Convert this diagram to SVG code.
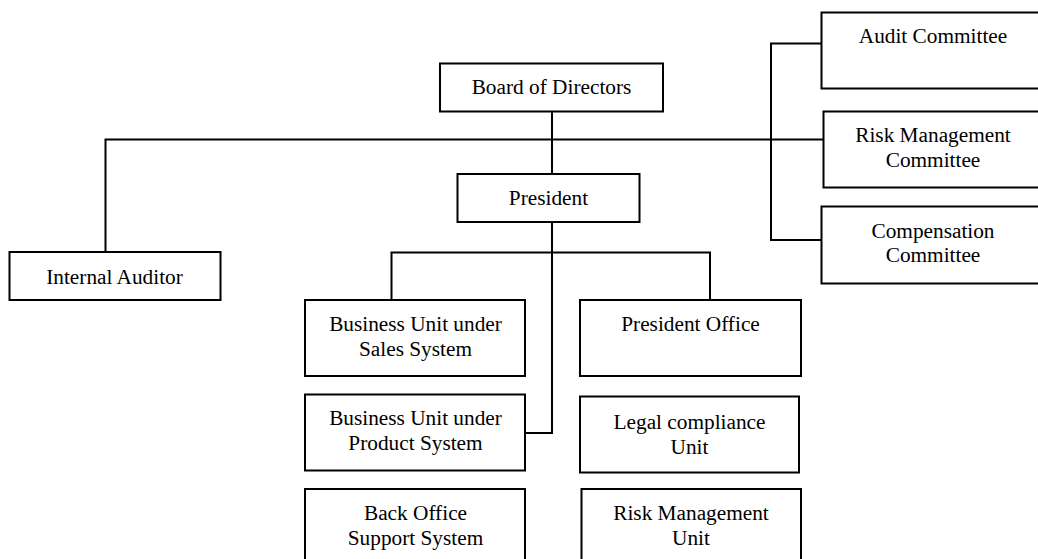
<svg xmlns="http://www.w3.org/2000/svg" width="1038" height="559" viewBox="0 0 1038 559">
<style>
.box{fill:#fff;stroke:#000;stroke-width:2}
.ln{fill:none;stroke:#000;stroke-width:2}
text{font-family:"Liberation Serif","Times New Roman",serif;font-size:21.3px;fill:#000;text-anchor:middle}
</style>
<rect width="1038" height="559" fill="#fff"/>
<g id="connectors">
<path class="ln" d="M552 112 V174"/>
<path class="ln" d="M105.5 252 V139.5 H823"/>
<path class="ln" d="M821 43.5 H771 V240 H821"/>
<path class="ln" d="M552 222 V433 H525"/>
<path class="ln" d="M391.5 300 V252.5 H710 V300"/>
</g>
<g id="board"><rect class="box" x="440" y="63.5" width="223" height="48"/><text x="551.5" y="94">Board of Directors</text></g>
<g id="president"><rect class="box" x="457.5" y="174" width="182" height="48"/><text x="548.5" y="205">President</text></g>
<g id="audit"><rect class="box" x="821.5" y="12.5" width="230" height="76"/><text x="933" y="42.5">Audit Committee</text></g>
<g id="riskcommittee"><rect class="box" x="823.5" y="111.5" width="230" height="76"/><text x="933" y="141.5">Risk Management</text><text x="933" y="166.5">Committee</text></g>
<g id="compensation"><rect class="box" x="821.5" y="206.5" width="230" height="77"/><text x="933" y="237.5">Compensation</text><text x="933" y="262">Committee</text></g>
<g id="internalauditor"><rect class="box" x="9.5" y="252" width="211" height="48"/><text x="114.5" y="283.5">Internal Auditor</text></g>
<g id="busales"><rect class="box" x="305" y="300" width="220" height="76"/><text x="415.5" y="331">Business Unit under</text><text x="415.5" y="356">Sales System</text></g>
<g id="buproduct"><rect class="box" x="305" y="394.5" width="220" height="76"/><text x="415.5" y="425">Business Unit under</text><text x="415.5" y="450">Product System</text></g>
<g id="backoffice"><rect class="box" x="305" y="489" width="220" height="80"/><text x="415.5" y="519.5">Back Office</text><text x="415.5" y="545">Support System</text></g>
<g id="presidentoffice"><rect class="box" x="580" y="300" width="221" height="76"/><text x="690.5" y="331">President Office</text></g>
<g id="legal"><rect class="box" x="580" y="396.5" width="219" height="76"/><text x="689.5" y="428.5">Legal compliance</text><text x="689.5" y="453.5">Unit</text></g>
<g id="riskunit"><rect class="box" x="581.5" y="489" width="219.5" height="80"/><text x="691" y="519.5">Risk Management</text><text x="691" y="545">Unit</text></g>
</svg>
